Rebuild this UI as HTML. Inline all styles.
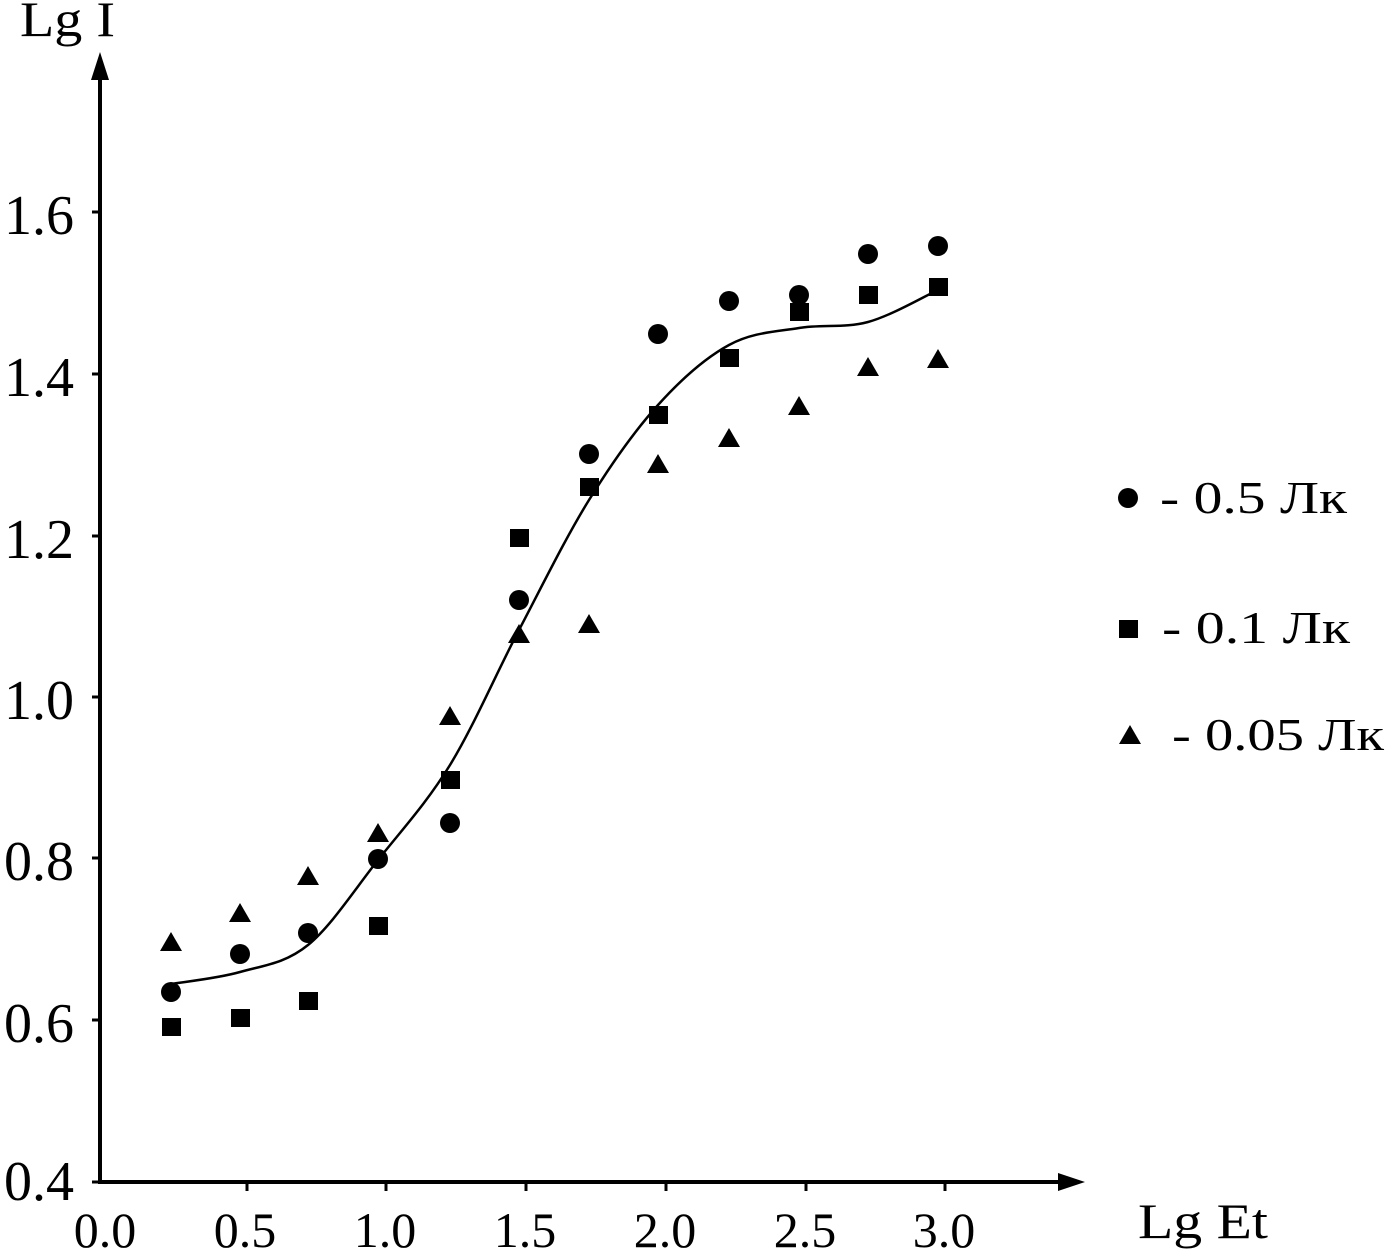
<!DOCTYPE html><html><head><meta charset="utf-8"><style>body{margin:0;background:#fff}svg{display:block}text{font-family:"Liberation Serif","DejaVu Serif",serif;fill:#000}.y{font-size:56px}.x{font-size:50px}.l{font-size:46px}</style></head><body>
<svg width="1387" height="1259" xmlns="http://www.w3.org/2000/svg">
<line x1="100" y1="1184" x2="100" y2="70" stroke="#000" stroke-width="4"/>
<polygon points="100,52 91,80 109,80" fill="#000"/>
<line x1="98" y1="1182" x2="1065" y2="1182" stroke="#000" stroke-width="4"/>
<polygon points="1085,1182 1058,1173 1058,1191" fill="#000"/>
<g stroke="#000" stroke-width="3">
<line x1="92" y1="212" x2="100" y2="212"/><line x1="92" y1="374" x2="100" y2="374"/><line x1="92" y1="536" x2="100" y2="536"/><line x1="92" y1="697" x2="100" y2="697"/><line x1="92" y1="858" x2="100" y2="858"/><line x1="92" y1="1020" x2="100" y2="1020"/><line x1="92" y1="1182" x2="100" y2="1182"/>
<line x1="247" y1="1182" x2="247" y2="1191"/><line x1="386" y1="1182" x2="386" y2="1191"/><line x1="526" y1="1182" x2="526" y2="1191"/><line x1="666" y1="1182" x2="666" y2="1191"/><line x1="806" y1="1182" x2="806" y2="1191"/><line x1="945" y1="1182" x2="945" y2="1191"/>
</g>
<g text-anchor="end"><text class="y" x="74" y="234">1.6</text><text class="y" x="74" y="396">1.4</text><text class="y" x="74" y="558">1.2</text><text class="y" x="74" y="719">1.0</text><text class="y" x="74" y="880">0.8</text><text class="y" x="74" y="1042">0.6</text><text class="y" x="74" y="1200">0.4</text></g>
<g text-anchor="middle"><text class="x" x="105" y="1247">0.0</text><text class="x" x="245" y="1247">0.5</text><text class="x" x="385" y="1247">1.0</text><text class="x" x="525" y="1247">1.5</text><text class="x" x="665" y="1247">2.0</text><text class="x" x="805" y="1247">2.5</text><text class="x" x="944" y="1247">3.0</text></g>
<text x="20" y="36" style="font-size:50px" textLength="95" lengthAdjust="spacingAndGlyphs">Lg I</text>
<text x="1138" y="1238" style="font-size:50px" textLength="130" lengthAdjust="spacingAndGlyphs">Lg Et</text>
<path d="M171,984 C182.5,982 217.2,978.5 240,972 C262.8,965.5 285,963.7 308,945 C331,926.3 354.3,890 378,860 C401.7,830 426.5,803.3 450,765 C473.5,726.7 495.8,674.2 519,630 C542.2,585.8 565.8,537.5 589,500 C612.2,462.5 634.7,430.8 658,405 C681.3,379.2 705.5,357.8 729,345 C752.5,332.2 775.8,331.8 799,328 C822.2,324.2 844.8,328.3 868,322 C891.2,315.7 926.3,295.3 938,290" fill="none" stroke="#000" stroke-width="2.5"/>
<g fill="#000">
<circle cx="171" cy="992" r="10"/><circle cx="240" cy="954" r="10"/><circle cx="308" cy="933" r="10"/><circle cx="378" cy="859" r="10"/><circle cx="450" cy="823" r="10"/><circle cx="519" cy="600" r="10"/><circle cx="589" cy="454" r="10"/><circle cx="658" cy="334" r="10"/><circle cx="729" cy="301" r="10"/><circle cx="799" cy="295" r="10"/><circle cx="868" cy="254" r="10"/><circle cx="938" cy="246" r="10"/>
<g transform="translate(-9,-9)"><rect x="171" y="1027" width="19" height="18"/><rect x="240" y="1018" width="19" height="18"/><rect x="308" y="1001" width="19" height="18"/><rect x="378" y="926" width="19" height="18"/><rect x="450" y="780" width="19" height="18"/><rect x="519" y="538" width="19" height="18"/><rect x="589" y="487" width="19" height="18"/><rect x="658" y="415" width="19" height="18"/><rect x="729" y="358" width="19" height="18"/><rect x="799" y="312" width="19" height="18"/><rect x="868" y="295" width="19" height="18"/><rect x="938" y="287" width="19" height="18"/></g>
<polygon points="171,932 160,951 182,951"/><polygon points="240,903 229,922 251,922"/><polygon points="308,866 297,885 319,885"/><polygon points="378,823 367,842 389,842"/><polygon points="450,706 439,725 461,725"/><polygon points="519,624 508,643 530,643"/><polygon points="589,614 578,633 600,633"/><polygon points="658,454 647,473 669,473"/><polygon points="729,428 718,447 740,447"/><polygon points="799,396 788,415 810,415"/><polygon points="868,357 857,376 879,376"/><polygon points="938,349 927,368 949,368"/>
<circle cx="1128" cy="498" r="10"/>
<rect x="1119" y="620" width="19" height="18"/>
<polygon points="1130,725 1119,744 1141,744"/>
</g>
<text class="l" x="1160" y="513" textLength="187" lengthAdjust="spacingAndGlyphs">- 0.5 Лк</text>
<text class="l" x="1162" y="643" textLength="188" lengthAdjust="spacingAndGlyphs">- 0.1 Лк</text>
<text class="l" x="1172" y="750" textLength="212" lengthAdjust="spacingAndGlyphs">- 0.05 Лк</text>
</svg></body></html>
